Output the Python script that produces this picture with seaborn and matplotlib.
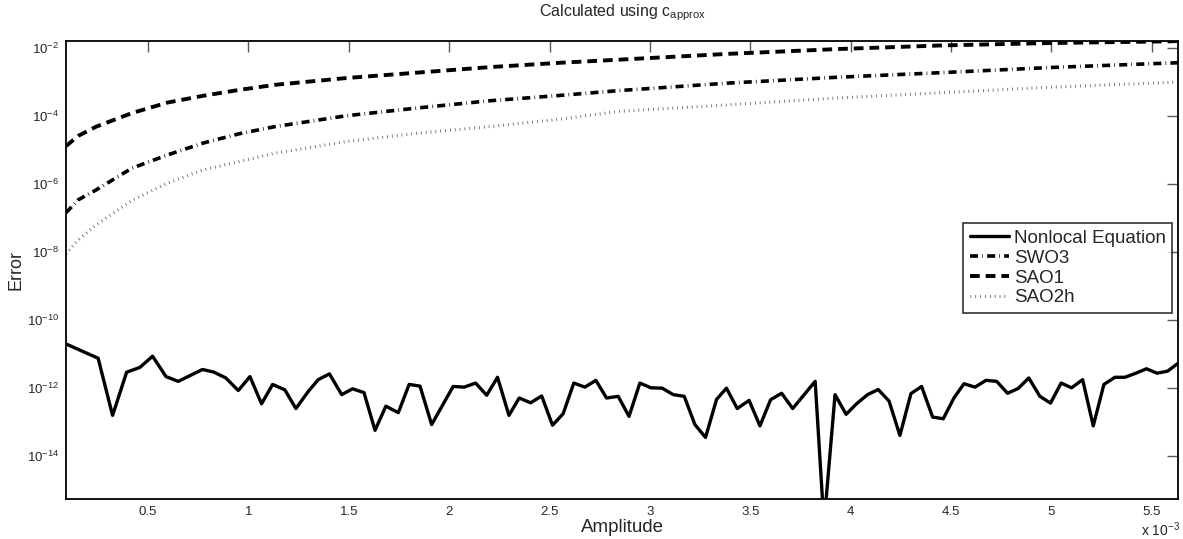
import matplotlib
matplotlib.use("Agg")
import matplotlib.pyplot as plt
import matplotlib.ticker as mticker
import seaborn as sns
import numpy as np

# amplitude values are in units of 1e-3, errors stored as log10 exponents
nonlocal_amp = [
    0.092, 0.252, 0.324, 0.394, 0.460, 0.523, 0.590, 0.651, 0.772, 0.829,
    0.888, 0.950, 1.008, 1.066, 1.121, 1.182, 1.237, 1.298, 1.348, 1.404,
    1.465, 1.519, 1.576, 1.631, 1.685, 1.747, 1.801, 1.855, 1.913, 2.020,
    2.075, 2.132, 2.187, 2.241, 2.298, 2.349, 2.406, 2.461, 2.515, 2.568,
    2.621, 2.676, 2.731, 2.784, 2.842, 2.896, 2.950, 3.005, 3.061, 3.116,
    3.171, 3.224, 3.277, 3.332, 3.381, 3.435, 3.494, 3.548, 3.601, 3.656,
    3.711, 3.823, 3.867, 3.922, 3.977, 4.029, 4.084, 4.137, 4.191, 4.245,
    4.300, 4.353, 4.408, 4.461, 4.514, 4.564, 4.619, 4.674, 4.727, 4.781,
    4.834, 4.887, 4.942, 4.995, 5.048, 5.100, 5.155, 5.208, 5.261, 5.316,
    5.366, 5.420, 5.473, 5.526, 5.578, 5.630,
]
nonlocal_log = [
    -10.70, -11.12, -12.80, -11.53, -11.39, -11.06, -11.66, -11.80, -11.45, -11.53,
    -11.70, -12.07, -11.66, -12.46, -11.89, -12.05, -12.60, -12.10, -11.75, -11.58,
    -12.19, -12.02, -12.13, -13.24, -12.53, -12.72, -11.89, -11.94, -13.07, -11.95,
    -11.97, -11.85, -12.21, -11.68, -12.80, -12.29, -12.43, -12.23, -13.09, -12.75,
    -11.85, -11.97, -11.77, -12.29, -12.24, -12.83, -11.85, -11.99, -12.00, -12.19,
    -12.24, -13.07, -13.45, -12.33, -12.00, -12.60, -12.36, -13.11, -12.34, -12.15,
    -12.60, -11.80, -16.00, -12.19, -12.77, -12.46, -12.19, -12.04, -12.38, -13.39,
    -12.16, -11.95, -12.85, -12.90, -12.29, -11.87, -11.97, -11.77, -11.80, -12.15,
    -12.01, -11.70, -12.24, -12.44, -11.85, -11.99, -11.75, -13.11, -11.89, -11.68,
    -11.68, -11.56, -11.43, -11.56, -11.50, -11.27,
]

curve_amp = [0.092, 0.153, 0.242, 0.420, 0.598, 0.776, 0.953, 1.131, 1.487, 1.842,
             2.198, 2.553, 2.843, 3.384, 3.920, 4.455, 4.991, 5.580, 5.630]
swo3_log = [-6.84, -6.46, -6.17, -5.53, -5.14, -4.79, -4.52, -4.31, -3.99, -3.76,
            -3.55, -3.39, -3.25, -3.03, -2.86, -2.72, -2.57, -2.44, -2.43]
sao1_log = [-4.88, -4.58, -4.31, -3.91, -3.60, -3.40, -3.23, -3.08, -2.88, -2.72,
            -2.56, -2.43, -2.34, -2.17, -2.03, -1.92, -1.85, -1.80, -1.79]
sao2h_log = [-8.05, -7.64, -7.20, -6.48, -5.97, -5.58, -5.34, -5.09, -4.75, -4.50,
             -4.31, -4.09, -3.86, -3.67, -3.47, -3.31, -3.15, -3.01, -3.00]

x_ticks = [0.5, 1, 1.5, 2, 2.5, 3, 3.5, 4, 4.5, 5, 5.5]
y_ticks = [1e-14, 1e-12, 1e-10, 1e-8, 1e-6, 1e-4, 1e-2]


def main():
    sns.set_style("white")
    plt.rcParams["font.family"] = ["Liberation Sans", "DejaVu Sans"]
    plt.rcParams["mathtext.fontset"] = "custom"
    plt.rcParams["mathtext.rm"] = "Liberation Sans"
    plt.rcParams["mathtext.it"] = "Liberation Sans"
    plt.rcParams["lines.scale_dashes"] = False

    fig = plt.figure(figsize=(11.83, 5.39), dpi=100)
    ax = fig.add_axes([66 / 1183, 1 - 499 / 539, 1112 / 1183, 458 / 539])

    sns.lineplot(x=nonlocal_amp, y=10.0 ** np.array(nonlocal_log), ax=ax,
                 color="black", lw=2.4, label="Nonlocal Equation", sort=False)
    sns.lineplot(x=curve_amp, y=10.0 ** np.array(swo3_log), ax=ax,
                 color="black", lw=2.6, label="SWO3", sort=False)
    ax.lines[-1].set_dashes([5.8, 3.0, 0.5, 3.0])
    sns.lineplot(x=curve_amp, y=10.0 ** np.array(sao1_log), ax=ax,
                 color="black", lw=2.8, label="SAO1", sort=False)
    ax.lines[-1].set_dashes([7.0, 4.3])
    sns.lineplot(x=curve_amp, y=10.0 ** np.array(sao2h_log), ax=ax,
                 color="0.3", lw=2.2, label="SAO2h", sort=False)
    ax.lines[-1].set_dashes([0.5, 3.0])

    ax.set_yscale("log")
    ax.set_xlim(0.092, 5.63)
    ax.set_ylim(10 ** -15.26, 10 ** -1.79)
    ax.set_xticks(x_ticks)
    ax.set_xticklabels([f"{t:g}" for t in x_ticks])
    ax.yaxis.set_major_locator(mticker.FixedLocator(y_ticks))
    ax.yaxis.set_minor_locator(mticker.NullLocator())
    ax.yaxis.set_major_formatter(mticker.LogFormatterSciNotation())
    ax.tick_params(axis="both", which="major", direction="in", length=8,
                   width=1.0, color="0.35", labelsize=9.5, top=True, right=True,
                   pad=5)
    for s in ax.spines.values():
        s.set_color("black")
        s.set_linewidth(1.3)

    ax.set_xlabel("")
    ax.set_ylabel("")
    fig.text(16 / 1183, 1 - 270 / 539, "Error", rotation=90, ha="center",
             va="center", fontsize=13)
    fig.text(622 / 1183, 1 - 528 / 539, "Amplitude", ha="center", va="center",
             fontsize=13.5)
    fig.text(622 / 1183, 1 - 13 / 539, r"Calculated using c$_{\mathrm{approx}}$",
             ha="center", va="center", fontsize=11.5)
    fig.text(1160 / 1183, 1 - 530 / 539, r"x 10$^{-3}$", ha="center",
             va="center", fontsize=10)

    leg = ax.legend(loc="upper left", bbox_to_anchor=(963 / 1183, 1 - 223 / 539),
                    bbox_transform=fig.transFigure, frameon=True, fancybox=False,
                    fontsize=13.5, handlelength=2.1, handletextpad=0.25,
                    borderpad=0.35, labelspacing=0.15, borderaxespad=0)
    leg.get_frame().set_edgecolor("black")
    leg.get_frame().set_linewidth(1.2)

    fig.savefig("out.png", dpi=100)


if __name__ == "__main__":
    main()
